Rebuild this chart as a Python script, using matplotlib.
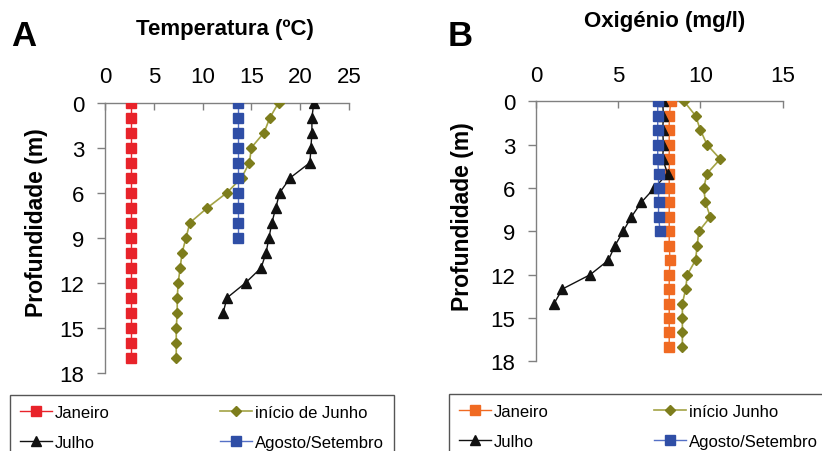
import matplotlib
matplotlib.use("Agg")
import matplotlib.pyplot as plt

plt.rcParams['font.family'] = ['Liberation Sans', 'DejaVu Sans']

# ---------------- Data ----------------
# Panel A: Temperature (ºC) vs depth (m)
temp_jan_depth = list(range(0, 18))
temp_jan = [2.7] * 18
temp_jun_depth = list(range(0, 18))
temp_jun = [17.8, 16.9, 16.3, 15.0, 14.8, 14.0, 12.5, 10.5, 8.7, 8.3,
            7.9, 7.7, 7.5, 7.4, 7.4, 7.3, 7.3, 7.3]
temp_jul_depth = list(range(0, 15))
temp_jul = [21.4, 21.2, 21.2, 21.1, 21.0, 19.0, 17.9, 17.5, 17.1, 16.8,
            16.5, 16.0, 14.4, 12.5, 12.1]
temp_ago_depth = list(range(0, 10))
temp_ago = [13.6] * 10

# Panel B: Oxygen (mg/l) vs depth (m)
oxy_jan_depth = list(range(0, 18))
oxy_jan = [8.2, 8.1, 8.1, 8.1, 8.1, 8.1, 8.1, 8.1, 8.1, 8.1,
           8.1, 8.15, 8.1, 8.1, 8.1, 8.1, 8.1, 8.1]
oxy_jun_depth = list(range(0, 18))
oxy_jun = [9.0, 9.7, 10.0, 10.4, 11.2, 10.4, 10.2, 10.3, 10.6, 9.9,
           9.8, 9.7, 9.2, 9.1, 8.9, 8.9, 8.9, 8.9]
oxy_jul_depth = list(range(0, 15))
oxy_jul = [7.7, 7.75, 7.7, 7.75, 7.7, 8.0, 7.2, 6.4, 5.8, 5.3,
           4.8, 4.4, 3.3, 1.6, 1.1]
oxy_ago_depth = list(range(0, 10))
oxy_ago = [7.4, 7.4, 7.4, 7.4, 7.4, 7.45, 7.45, 7.45, 7.45, 7.55]

y_ticks = [0, 3, 6, 9, 12, 15, 18]
temp_ticks = [0, 5, 10, 15, 20, 25]
oxy_ticks = [0, 5, 10, 15]

labels_A = ["Janeiro", "Julho", "início de Junho", "Agosto/Setembro"]
labels_B = ["Janeiro", "Julho", "início Junho", "Agosto/Setembro"]

# ---------------- Styles ----------------
RED = "#e8232a"
ORANGE = "#f06a22"
OLIVE_M = "#7d7d1c"
OLIVE_L = "#a3a345"
BLUE_M = "#2f4ea6"
BLUE_L = "#5470c6"
BLACK = "#111111"
SPINE = "#808080"

W, H = 822, 452
fig = plt.figure(figsize=(W / 100, H / 100), dpi=100)


def fx(px):
    return px / W


def fy(py):
    return 1 - py / H


def style_axes(ax, xmax, xticks):
    ax.set_xlim(0, xmax)
    ax.set_ylim(18, 0)
    ax.xaxis.tick_top()
    ax.set_xticks(xticks)
    ax.set_yticks(y_ticks)
    for s in ["right", "bottom"]:
        ax.spines[s].set_visible(False)
    for s in ["left", "top"]:
        ax.spines[s].set_color(SPINE)
        ax.spines[s].set_linewidth(1.0)
    ax.tick_params(axis="x", direction="in", length=5, width=1, color=SPINE,
                   labelsize=16, pad=11)
    ax.tick_params(axis="y", direction="out", length=6, width=1, color=SPINE,
                   labelsize=16, pad=9)


# Panel A
axA = fig.add_axes([fx(105), fy(374), fx(349) - fx(105), fy(103.5) - fy(374)])
axA.plot(temp_jan, temp_jan_depth, color=RED, marker="s", ms=6.5, lw=1,
         mfc=RED, mec=RED, label="Janeiro", zorder=3)
axA.plot(temp_jun, temp_jun_depth, color=OLIVE_L, marker="D", ms=5, lw=1.2,
         mfc=OLIVE_M, mec=OLIVE_M, label="início de Junho", zorder=3)
axA.plot(temp_jul, temp_jul_depth, color=BLACK, marker="^", ms=7, lw=1,
         mfc=BLACK, mec=BLACK, label="Julho", zorder=3)
axA.plot(temp_ago, temp_ago_depth, color=BLUE_L, marker="s", ms=7, lw=1,
         mfc=BLUE_M, mec=BLUE_M, label="Agosto/Setembro", zorder=4)
style_axes(axA, 25, temp_ticks)

# Panel B
axB = fig.add_axes([fx(536), fy(362.3), fx(782.7) - fx(536), fy(102.3) - fy(362.3)])
axB.plot(oxy_jan, oxy_jan_depth, color=ORANGE, marker="s", ms=6.5, lw=1,
         mfc=ORANGE, mec=ORANGE, label="Janeiro", zorder=3)
axB.plot(oxy_jun, oxy_jun_depth, color=OLIVE_L, marker="D", ms=5, lw=1.2,
         mfc=OLIVE_M, mec=OLIVE_M, label="início Junho", zorder=3)
axB.plot(oxy_jul, oxy_jul_depth, color=BLACK, marker="^", ms=7, lw=1,
         mfc=BLACK, mec=BLACK, label="Julho", zorder=3)
axB.plot(oxy_ago, oxy_ago_depth, color=BLUE_L, marker="s", ms=7, lw=1,
         mfc=BLUE_M, mec=BLUE_M, label="Agosto/Setembro", zorder=4)
style_axes(axB, 15, oxy_ticks)

# Titles / labels
fig.text(fx(225), fy(30), "Temperatura (ºC)", ha="center", va="center",
         fontsize=16, fontweight="bold")
fig.text(fx(665), fy(22), "Oxigénio (mg/l)", ha="center", va="center",
         fontsize=16, fontweight="bold")
fig.text(fx(11), fy(36), "A", ha="left", va="center", fontsize=25,
         fontweight="bold")
fig.text(fx(448), fy(36), "B", ha="left", va="center", fontsize=25,
         fontweight="bold")
fig.text(fx(37), fy(223), "Profundidade (m)", ha="center", va="center",
         rotation=90, fontsize=16.5, fontweight="bold")
fig.text(fx(462), fy(217), "Profundidade (m)", ha="center", va="center",
         rotation=90, fontsize=16.5, fontweight="bold")


# Legends
def make_legend(ax, order, x0, x1, ytop):
    handles, labels = ax.get_legend_handles_labels()
    hmap = dict(zip(labels, handles))
    hs = [hmap[l] for l in order]
    leg = fig.legend(hs, order, loc="upper left", ncol=2, mode="expand",
                     bbox_to_anchor=(fx(x0), fy(ytop) - 0.3, fx(x1) - fx(x0), 0.3),
                     fontsize=12, frameon=True, fancybox=False, framealpha=1,
                     edgecolor="#555555", borderpad=0.6, labelspacing=0.9,
                     handlelength=1.9, handletextpad=0.2, numpoints=1,
                     borderaxespad=0)
    leg.get_frame().set_linewidth(1.0)
    return leg


make_legend(axA, labels_A, 10, 394, 396)
make_legend(axB, labels_B, 449, 828, 395)

fig.savefig("out.png", dpi=100)
